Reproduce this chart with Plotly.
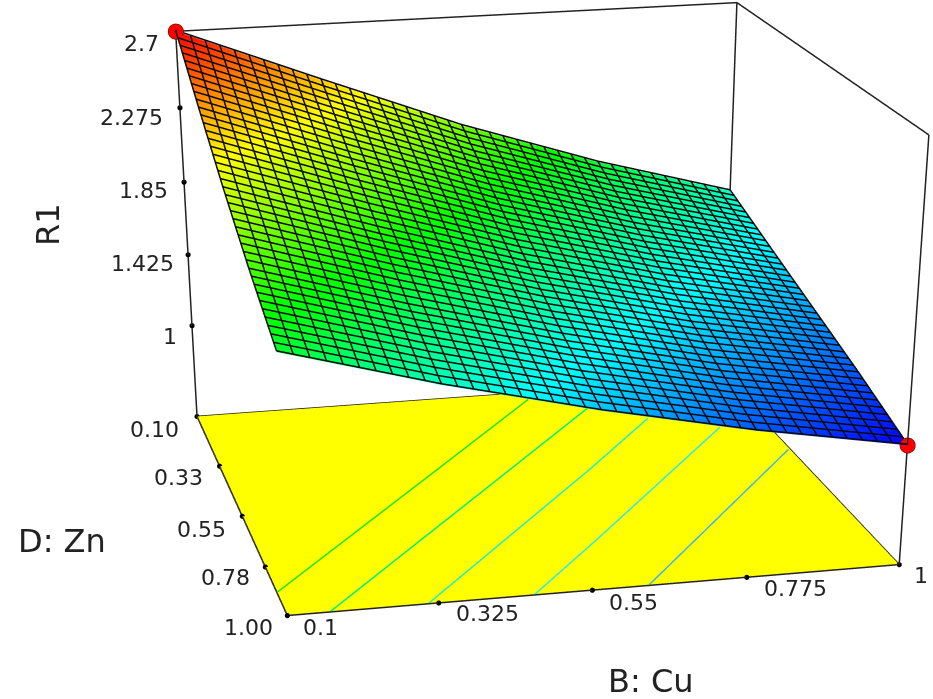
import numpy as np
import plotly.graph_objects as go

# ---- data ----
cu_levels = [0.1, 0.325, 0.55, 0.775, 1.0]
zn_levels = [0.1, 0.325, 0.55, 0.775, 1.0]
r1_row_zn010 = [2.700, 2.388, 2.083, 1.823, 1.604]
r1_row_zn033 = [2.456, 2.171, 1.900, 1.672, 1.480]
r1_row_zn055 = [2.225, 1.966, 1.724, 1.523, 1.358]
r1_row_zn078 = [2.015, 1.776, 1.563, 1.380, 1.236]
r1_row_zn100 = [1.830, 1.604, 1.410, 1.242, 1.102]

r1_floor = 0.44
r1_top = 2.7
design_cu = [0.1, 1.0]
design_zn = [0.1, 1.0]
design_r1 = [2.7, 1.102]

contour_cu = [[0.100, 0.432, 0.651], [0.162, 0.543, 0.735], [0.303, 0.665, 0.819],
              [0.457, 0.606, 0.921], [0.625, 0.996]]
contour_zn = [[0.912, 0.447, 0.139], [1.000, 0.473, 0.207], [1.000, 0.500, 0.279],
              [1.000, 0.794, 0.349], [1.000, 0.479]]
contour_colors = ['#1EE61E', '#00F080', '#20F0C8', '#30E8E8', '#40B8E0']

r1_ticks = [2.7, 2.275, 1.85, 1.425, 1.0]
r1_labels = ['2.7', '2.275', '1.85', '1.425', '1']
zn_ticks = [0.10, 0.353, 0.587, 0.806, 1.00]
zn_labels = ['0.10', '0.33', '0.55', '0.78', '1.00']
cu_ticks = [0.1, 0.317, 0.541, 0.770, 1.0]
cu_labels = ['0.1', '0.325', '0.55', '0.775', '1']

r1_label_shift = [(-34, -12), (-48, -10), (-41, -8), (-46, -9), (-22, -11)]
zn_label_shift = [(-42, -13), (-41, -11), (-41, -13), (-40, -11), (-39, -12)]
cu_label_shift = [(33, -12), (49, -11), (41, -12), (49, -11), (22, -11)]

# ---- figure ----
FIG_W, FIG_H = 933, 2600
TXT = '#222222'
TICK_FONT = dict(family='DejaVu Sans', size=22, color=TXT)
TITLE_FONT = dict(family='DejaVu Sans', size=32, color=TXT)
lo, hi = cu_levels[0], cu_levels[-1]
CELLS = 40
PAD = 0.01  # axis range slightly past the box so nothing on its faces is clipped
pad_xy = (hi - lo) * PAD
pad_z = (r1_top - r1_floor) * PAD
grow = 1 + 2 * PAD

z_grid = [r1_row_zn010, r1_row_zn033, r1_row_zn055, r1_row_zn078, r1_row_zn100]
rainbow = [[0, '#0000FF'], [0.25, '#00FFFF'], [0.5, '#00FF00'], [0.75, '#FFFF00'], [1, '#FF0000']]
flat = dict(ambient=1, diffuse=0, specular=0, roughness=1, fresnel=0)


def surface_height(cu, zn):
    """Height of the read table at (cu, zn), for laying the mesh lines on it."""
    col = [np.interp(cu, cu_levels, row) for row in z_grid]
    return np.interp(zn, zn_levels, col)


fig = go.Figure()

# yellow floor
fig.add_trace(go.Surface(x=[lo, hi], y=[lo, hi], z=[[r1_floor] * 2] * 2,
                         colorscale=[[0, '#FFFF00'], [1, '#FFFF00']], showscale=False,
                         lighting=flat, hoverinfo='skip'))

# response surface
fig.add_trace(go.Surface(x=cu_levels, y=zn_levels, z=z_grid, colorscale=rainbow, cmin=1.1, cmax=2.7,
                         showscale=False, lighting=flat))

# its wire mesh, resting just on top of it
mesh_at = np.linspace(lo, hi, CELLS + 1)
wx, wy, wz = [], [], []
for m in mesh_at:
    for n in mesh_at:
        wx.append(m); wy.append(n); wz.append(surface_height(m, n) + 0.006)
    wx.append(None); wy.append(None); wz.append(None)
    for n in mesh_at:
        wx.append(n); wy.append(m); wz.append(surface_height(n, m) + 0.006)
    wx.append(None); wy.append(None); wz.append(None)
fig.add_trace(go.Scatter3d(x=wx, y=wy, z=wz, mode='lines', connectgaps=False,
                           line=dict(color='#0A0A0A', width=3), showlegend=False, hoverinfo='skip'))

# contours on the floor
for xs, ys, col in zip(contour_cu, contour_zn, contour_colors):
    fig.add_trace(go.Scatter3d(x=xs, y=ys, z=[r1_floor + 0.004] * len(xs), mode='lines',
                               line=dict(color=col, width=3), showlegend=False))

# box edges
edges = [((lo, lo, r1_top), (lo, lo, r1_floor)), ((lo, lo, r1_floor), (lo, hi, r1_floor)),
         ((lo, hi, r1_floor), (hi, hi, r1_floor)), ((hi, hi, r1_floor), (hi, lo, r1_floor)),
         ((hi, lo, r1_floor), (lo, lo, r1_floor)), ((lo, lo, r1_top), (hi, lo, r1_top)),
         ((hi, lo, r1_top), (hi, hi, r1_top)), ((hi, hi, r1_top), (hi, hi, r1_floor)),
         ((hi, lo, r1_top), (hi, lo, r1_floor))]
for a, b in edges:
    fig.add_trace(go.Scatter3d(x=[a[0], b[0]], y=[a[1], b[1]], z=[a[2], b[2]], mode='lines',
                               line=dict(color='#222222', width=3), showlegend=False))

# tick dots
fig.add_trace(go.Scatter3d(
    x=[lo] * 5 + [lo] * 5 + cu_ticks,
    y=[lo] * 5 + zn_ticks + [hi] * 5,
    z=r1_ticks + [r1_floor] * 10,
    mode='markers', marker=dict(color='black', size=3), showlegend=False))

# design points
fig.add_trace(go.Scatter3d(x=design_cu, y=design_zn, z=design_r1, mode='markers',
                           marker=dict(color='#FF0000', size=9, line=dict(color='#400000', width=1)),
                           showlegend=False))

# tick labels
anns = []
for v, t, (dx, dy) in zip(r1_ticks, r1_labels, r1_label_shift):
    anns.append(dict(x=lo, y=lo, z=v, text=t, xshift=dx, yshift=dy))
for v, t, (dx, dy) in zip(zn_ticks, zn_labels, zn_label_shift):
    anns.append(dict(x=lo, y=v, z=r1_floor, text=t, xshift=dx, yshift=dy))
for v, t, (dx, dy) in zip(cu_ticks, cu_labels, cu_label_shift):
    anns.append(dict(x=v, y=hi, z=r1_floor, text=t, xshift=dx, yshift=dy))
for a in anns:
    a.update(showarrow=False, font=TICK_FONT, xanchor='center', yanchor='middle')

hidden = dict(visible=False)
title_common = dict(xref='paper', yref='paper', showarrow=False, font=TITLE_FONT,
                    xanchor='center', yanchor='middle')
fig.update_layout(
    width=FIG_W, height=FIG_H, margin=dict(l=0, r=0, t=0, b=0), paper_bgcolor='white',
    showlegend=False,
    scene=dict(domain=dict(x=[0, 1], y=[0, 1]), aspectmode='manual',
               aspectratio=dict(x=1.0 * grow, y=1.038 * grow, z=0.6665 * grow), annotations=anns,
               xaxis=dict(hidden, range=[lo - pad_xy, hi + pad_xy]),
               yaxis=dict(hidden, range=[hi + pad_xy, lo - pad_xy]),
               zaxis=dict(hidden, range=[r1_floor - pad_z, r1_top + pad_z]),
               camera=dict(eye=dict(x=-1.1806, y=-5.1708, z=1.433),
                           center=dict(x=-0.0423, y=0.3716, z=-2.2351),
                           up=dict(x=0.6721, y=3.1457, z=1.0))),
    annotations=[
        dict(text='R1', x=48 / FIG_W, y=1 - 225 / FIG_H, textangle=-90, **title_common),
        dict(text='D: Zn', x=62 / FIG_W, y=1 - 541 / FIG_H, **title_common),
        dict(text='B: Cu', x=651 / FIG_W, y=1 - 681 / FIG_H, **title_common),
    ])

fig.write_html("out.html", config=dict(displayModeBar=False),
               post_script="document.body.style.margin='0';document.documentElement.style.overflow='hidden';")
